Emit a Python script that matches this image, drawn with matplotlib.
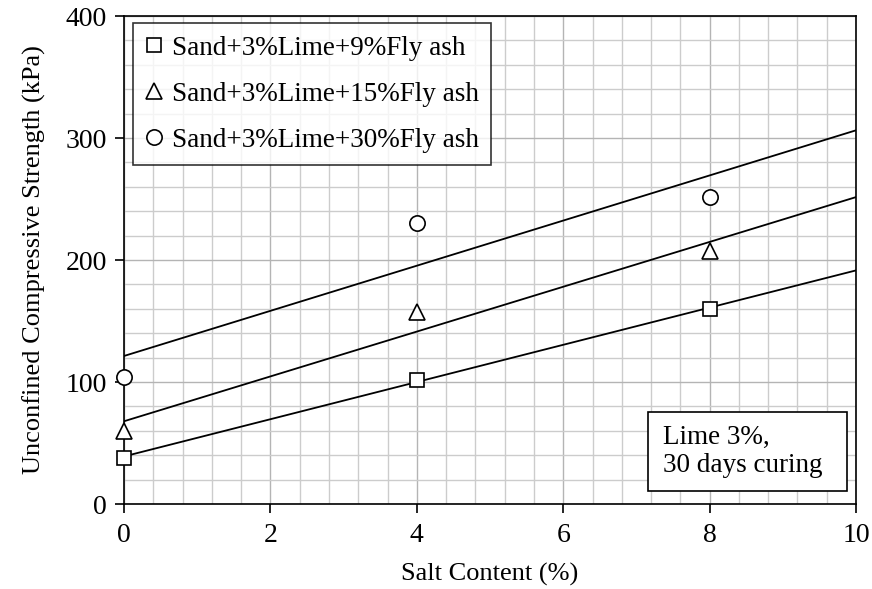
import numpy as np
import matplotlib
matplotlib.use("Agg")
import matplotlib.pyplot as plt
from matplotlib.ticker import MultipleLocator
from matplotlib.patches import Rectangle

plt.rcParams['font.family'] = ['Liberation Serif', 'DejaVu Serif']

salt = [0, 4, 8]
ucs_9 = [38, 102, 160]
ucs_15 = [60, 157, 207]
ucs_30 = [104, 230, 252]
labels = ["Sand+3%Lime+9%Fly ash", "Sand+3%Lime+15%Fly ash", "Sand+3%Lime+30%Fly ash"]
markers = ['s', '^', 'o']
msizes = [10.5, 12, 11]

fig = plt.figure(figsize=(8.72, 5.89), dpi=100)
ax = fig.add_axes([0.1422, 0.1443, 0.8395, 0.8285])

x_fit = np.array([0, 10])
handles = []
for ys, mk, ms, lab in zip([ucs_9, ucs_15, ucs_30], markers, msizes, labels):
    k, b = np.polyfit(salt, ys, 1)
    ax.plot(x_fit, k * x_fit + b, color='black', lw=1.3, zorder=3)
    h, = ax.plot(salt, ys, linestyle='none', marker=mk, markersize=ms,
                 markerfacecolor='white', markeredgecolor='black', markeredgewidth=1.2,
                 clip_on=False, zorder=4, label=lab)
    handles.append(h)

ax.set_xlim(0, 10)
ax.set_ylim(0, 400)
ax.xaxis.set_major_locator(MultipleLocator(2))
ax.xaxis.set_minor_locator(MultipleLocator(0.4))
ax.yaxis.set_major_locator(MultipleLocator(100))
ax.yaxis.set_minor_locator(MultipleLocator(20))
ax.grid(which='major', color='#b4b4b4', lw=1.0)
ax.grid(which='minor', color='#cccccc', lw=1.0)
ax.set_axisbelow(True)
ax.tick_params(which='major', direction='out', length=6.5, width=1.2, labelsize=20,
               top=False, right=False)
ax.tick_params(axis='y', pad=6)
ax.tick_params(axis='x', pad=7)
ax.tick_params(which='minor', length=0)
for s in ax.spines.values():
    s.set_linewidth(1.2)

ax.set_xlabel("Salt Content (%)", fontsize=19, labelpad=11)
ax.set_ylabel("Unconfined Compressive Strength (kPa)", fontsize=19, labelpad=14)

leg = ax.legend(handles=handles, loc='upper left', bbox_to_anchor=(0.012, 0.985),
                fontsize=19.5, frameon=True, fancybox=False, edgecolor='black',
                handlelength=0.7, handletextpad=0.3, labelspacing=0.78,
                borderpad=0.45, markerscale=1.0, borderaxespad=0)
leg.get_frame().set_linewidth(1.2)

# note box
ax.add_patch(Rectangle((0.716, 0.0266), 0.272, 0.162, transform=ax.transAxes,
                       facecolor='white', edgecolor='black', lw=1.2, zorder=5))
ax.text(0.736, 0.107, "Lime 3%,\n30 days curing", transform=ax.transAxes, fontsize=19.5,
        ha='left', va='center', linespacing=1.15, zorder=6)

fig.savefig("out.png", dpi=100)
